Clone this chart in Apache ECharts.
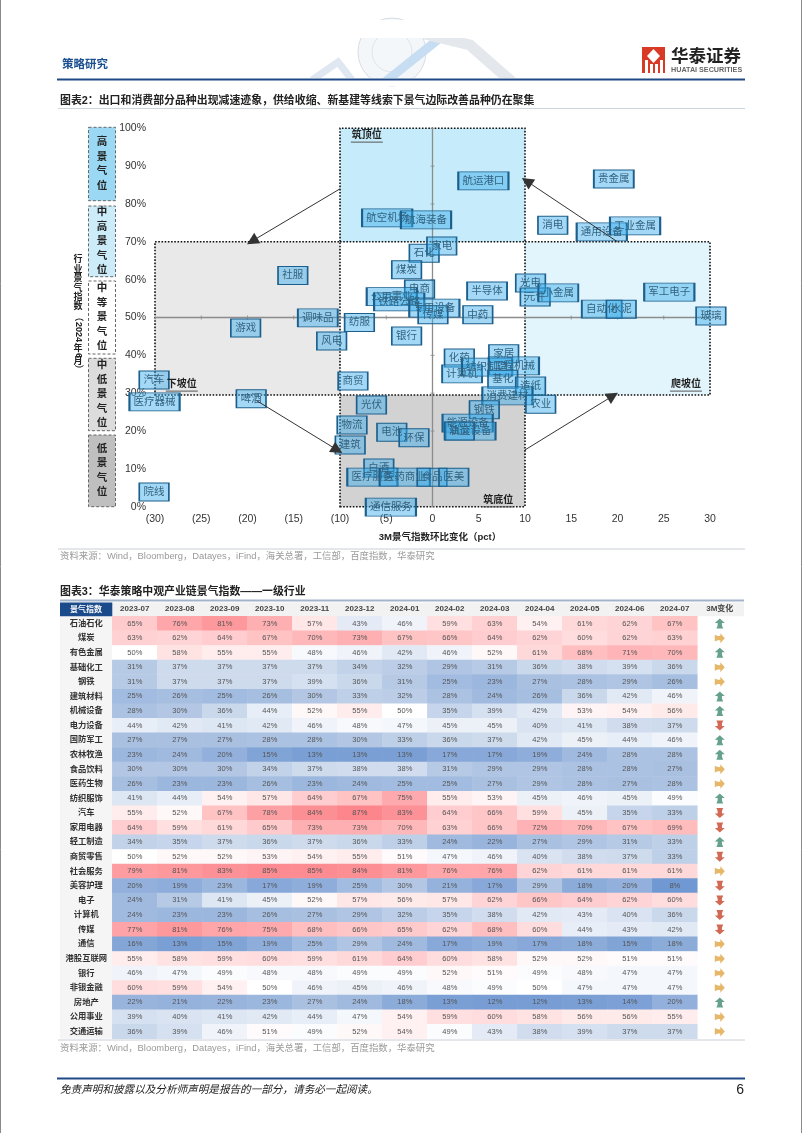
<!DOCTYPE html>
<html><head><meta charset="utf-8">
<style>html,body{margin:0;padding:0;background:#fff}#c{width:802px;height:1133px}</style>
<script src="https://cdn.jsdelivr.net/npm/echarts@6/dist/echarts.min.js"></script>
</head><body><div id="c"></div>
<script>
// ---------- scatter data (3M change pct, index %) ----------
const boxNames = ['航空机场','航海装备','航运港口','贵金属','消电','通用设备','工业金属','石化','家电','煤炭','社服','电商','公用事业','铁路公路','半导体','光电','元件','小金属','军工电子','自动化','水泥','玻璃','专用设备','传媒','中药','调味品','纺服','游戏','风电','银行','化药','家居','计算机','纺织制造','工程机械','基化','造纸','消费建材','农业','汽车','医疗器械','啤酒','商贸','光伏','钢铁','能源设备','轨交设备','油运','物流','电池','环保','建筑','白酒','医疗服务','医药商业','食品','医美','院线','通信服务'];
const boxX = [-4.9,-0.7,5.5,19.6,13.0,18.3,21.9,-0.9,1.0,-2.8,-15.1,-1.4,-4.4,-3.6,5.9,10.6,11.1,13.6,25.6,18.3,20.4,30.1,0.2,0.05,4.9,-12.4,-7.9,-20.2,-10.9,-2.8,2.9,7.7,3.2,5.9,8.8,7.6,10.6,8.1,11.7,-30.1,-30.05,-19.6,-8.6,-6.6,5.6,3.8,4.1,2.9,-8.7,-4.4,-2.0,-8.9,-5.8,-6.5,-3.0,-0.05,2.3,-30.1,-4.5];
const boxY = [76.3,75.8,86.1,86.6,74.4,72.6,74.2,67.0,68.9,62.6,61.1,57.5,55.5,54.1,57.0,59.1,55.4,56.5,56.7,52.2,52.2,50.4,52.5,50.7,50.7,49.9,48.7,47.2,43.8,45.1,39.3,40.4,35.1,36.9,37.2,33.7,31.9,29.3,27.1,33.5,27.7,28.5,33.2,26.9,25.6,22.1,20.0,20.0,21.6,19.7,18.2,16.3,10.2,7.8,7.8,7.8,7.8,3.9,-0.1];
const zoneNames = ['筑顶位','下坡位','爬坡位','筑底位'];
const zoneLabelX = [-7.1,-27.1,27.4,7.1];
const zoneLabelY = [98.2,32.4,32.4,1.8];
const zoneXFrom = [-10,-30,10,-10];
const zoneXTo = [10,-10,30,10];
const zoneYFrom = [70,29.5,29.5,-1];
const zoneYTo = [101.3,70,70,29.5];
const zoneFill = ['#c6ebfa','#e9e9e9','#e2f4fc','#d2d2d2'];
const arrowFrom = [[-10,84],[20,70],[-19,28],[10,15]];
const arrowTo = [[-19.5,70.2],[10.2,86],[-10.3,15],[19.5,29.3]];
const levelNames = ['高景气位','中高景气位','中等景气位','中低景气位','低景气位'];

// ---------- heat table data ----------
const months = ['2023-07','2023-08','2023-09','2023-10','2023-11','2023-12','2024-01','2024-02','2024-03','2024-04','2024-05','2024-06','2024-07'];
const lastColName = '3M变化';
const industries = ['石油石化','煤炭','有色金属','基础化工','钢铁','建筑材料','机械设备','电力设备','国防军工','农林牧渔','食品饮料','医药生物','纺织服饰','汽车','家用电器','轻工制造','商贸零售','社会服务','美容护理','电子','计算机','传媒','通信','港股互联网','银行','非银金融','房地产','公用事业','交通运输'];
const heat = [
[65,76,81,73,57,43,46,59,63,54,61,62,67],
[63,62,64,67,70,73,67,66,64,62,60,62,63],
[50,58,55,55,48,46,42,46,52,61,68,71,70],
[31,37,37,37,37,34,32,29,31,36,38,39,36],
[31,37,37,37,39,36,31,25,23,27,28,29,26],
[25,26,25,26,30,33,32,28,24,26,36,42,46],
[28,30,36,44,52,55,50,35,39,42,53,54,56],
[44,42,41,42,46,48,47,45,45,40,41,38,37],
[27,27,27,28,28,30,33,36,37,42,45,44,46],
[23,24,20,15,13,13,13,17,17,19,24,28,28],
[30,30,30,34,37,38,38,31,29,29,28,28,27],
[26,23,23,26,23,24,25,25,27,29,28,27,28],
[41,44,54,57,64,67,75,55,53,45,46,45,49],
[55,52,67,78,84,87,83,64,66,59,45,35,33],
[64,59,61,65,73,73,70,63,66,72,70,67,69],
[34,35,37,36,37,36,33,24,22,27,29,31,33],
[50,52,52,53,54,55,51,47,46,40,38,37,33],
[79,81,83,85,85,84,81,76,76,62,61,61,61],
[20,19,23,17,19,25,30,21,17,29,18,20,8],
[24,31,41,45,52,57,56,57,62,66,64,62,60],
[24,23,23,26,27,29,32,35,38,42,43,40,36],
[77,81,76,75,68,66,65,62,68,60,44,43,42],
[16,13,15,19,25,29,24,17,19,17,18,15,18],
[55,58,59,60,59,61,64,60,58,52,52,51,51],
[46,47,49,48,48,49,49,52,51,49,48,47,47],
[60,59,54,50,46,45,46,48,49,50,47,47,47],
[22,21,22,23,27,24,18,13,12,12,13,14,20],
[39,40,41,42,44,47,54,59,60,58,56,56,55],
[36,39,46,51,49,52,54,49,43,38,39,37,37]];
const change = ['up','flat','up','flat','flat','up','up','down','up','up','flat','flat','up','down','down','up','down','flat','down','down','down','down','flat','flat','flat','flat','up','flat','flat'];

// ---------- texts ----------
const headerText = '策略研究';
const title2 = '图表2：出口和消费部分品种出现减速迹象，供给收缩、新基建等线索下景气边际改善品种仍在聚集';
const title3 = '图表3：华泰策略中观产业链景气指数——一级行业';
const sourceText = '资料来源：Wind，Bloomberg，Datayes，iFind，海关总署，工信部，百度指数，华泰研究';
const footerText = '免责声明和披露以及分析师声明是报告的一部分，请务必一起阅读。';
const pageNo = '6';

const CJK = '"Liberation Sans","Noto Sans CJK SC",sans-serif';
const chart = echarts.init(document.getElementById('c'), null, {renderer:'canvas', width:802, height:1133});

function txt(text,x,y,size,color,opt){
  opt=opt||{};
  return Object.assign({type:'text',z:opt.z||5,rotation:opt.rotation||0,x:opt.px||0,y:opt.py||0,style:{text,x:opt.px?0:x,y:opt.py?0:y,fill:color,
    font:(opt.italic?'italic ':'')+(opt.bold?'bold ':'')+size+'px '+CJK,textAlign:opt.align||'left',textVerticalAlign:'middle',lineHeight:opt.lh}},{});
}
function rect(x,y,w,h,fill,stroke,dash,lw){
  return {type:'rect',z:0,shape:{x,y,width:w,height:h},style:{fill:fill||'none',stroke:stroke||'none',lineDash:dash||null,lineWidth:lw||1}};
}
function line(x1,y1,x2,y2,stroke,w){
  return {type:'line',z:1,shape:{x1,y1,x2,y2},style:{stroke,lineWidth:w}};
}
function poly(points,stroke,w){
  return {type:'polyline',z:0,shape:{points},style:{stroke,lineWidth:w,fill:'none'}};
}
const g=[];
// page edge
g.push(line(0.5,0,0.5,1133,'#8a8a8a',1),line(801.5,0,801.5,1133,'#8a8a8a',1));
// watermark
g.push({type:'circle',z:0,shape:{cx:392,cy:52,r:34},style:{fill:'rgba(228,234,242,.4)',stroke:'#d8dde4',lineWidth:1}});
g.push({type:'circle',z:0,shape:{cx:392,cy:52,r:20},style:{fill:'none',stroke:'#e0e4ea',lineWidth:1}});
g.push(poly([[312,80],[338,62],[352,80]],'#dfe7f1',7));
g.push(poly([[385,82],[440,38]],'#c6ddf2',9));
g.push(poly([[425,34],[470,45],[512,82]],'#e4e8ed',11));
g.push(rect(300,78,225,8,'#fff'));
g.push(rect(300,20,225,18,'#fff'));
// header
g.push(txt(headerText,62,64.5,11.5,'#1b4f8f',{bold:true}));
// logo
g.push(rect(642,47,23,26,'#d83a26'));
g.push({type:'polygon',z:1,shape:{points:[[653.5,49],[660,56],[653.5,63],[647,56]]},style:{fill:'#fff'}});
g.push(rect(645,60,3,13,'#fff'),rect(650,64,3,9,'#fff'),rect(655,64,3,9,'#fff'),rect(660,60,3,13,'#fff'));
g.push(txt('华泰证券',671,57,17.5,'#222',{bold:true}));
g.push(txt('HUATAI SECURITIES',671,70,7.2,'#666',{bold:true}));
g.push(line(57,79.5,745,79.5,'#1f4a86',2));
// titles
g.push(txt(title2,60,101,10.9,'#222',{bold:true}));
g.push(line(58,108.5,745,108.5,'#ccd4dc',1));
g.push(txt(title3,60,592,10.9,'#222',{bold:true}));
g.push(line(60,600.5,744,600.5,'#a3b3cc',2));
// level boxes
const lvlTop=[127.3,206,281,358.3,435], lvlBot=[200.7,276.7,354,430.7,506.7], lvlFill=['#9ad8f3','#cdecfa','#ffffff','#dcdcdc','#bfbfbf'];
levelNames.forEach((n,i)=>{
  g.push(rect(88.5,lvlTop[i],27,lvlBot[i]-lvlTop[i],lvlFill[i],'#666',[3,2],1));
  g.push({type:'text',z:5,style:{text:n.split('').join('\n'),x:102,y:(lvlTop[i]+lvlBot[i])/2,fill:'#222',font:'bold 10.5px '+CJK,textAlign:'center',textVerticalAlign:'middle',lineHeight:14.5}});
});
// y title (stacked)
'行业景气指数'.split('').forEach((c,i)=>g.push(txt(c,78,260+i*9.4,9,'#222',{align:'center',bold:true})));
g.push(txt('（',0,0,9,'#222',{align:'center',bold:true,px:78,py:317,rotation:-Math.PI/2}));
g.push(txt('2024',0,0,9,'#222',{align:'center',bold:true,px:78,py:332,rotation:-Math.PI/2}));
g.push(txt('年',78,349,9,'#222',{align:'center',bold:true}));
g.push(txt('6',0,0,9,'#222',{align:'center',bold:true,px:78,py:355.5,rotation:-Math.PI/2}));
g.push(txt('月',78,362,9,'#222',{align:'center',bold:true}));
g.push(txt('）',0,0,9,'#222',{align:'center',bold:true,px:78,py:369,rotation:-Math.PI/2}));
// x title
g.push(txt('3M景气指数环比变化（pct）',440,537,9.5,'#222',{align:'center',bold:true}));
// source lines
g.push(line(58,549,745,549,'#c9ced6',1));
g.push(txt(sourceText,60,556.5,9.4,'#9a9a9a'));
// table frames
g.push(rect(60,602.5,684,13.8,'#f2f2f2'));
g.push(rect(60,616.3,52.3,422.5,'#f5f5f5'));
g.push(rect(60,602.5,52.3,13.8,'#1a4a8a'));
g.push(txt('景气指数',86,609.5,8,'#fff',{align:'center',bold:true}));
g.push(line(58,1040,745,1040,'#c9ced6',1));
g.push(txt(sourceText,60,1048.5,9.4,'#9a9a9a'));
// footer
g.push(line(57,1078.5,745,1078.5,'#1f4a86',2));
g.push(txt(footerText,60,1090.5,10.6,'#222',{italic:true}));
g.push(txt(pageNo,744,1090,14,'#222',{align:'right'}));

const boxData = boxNames.map((n,i)=>({name:n,value:[boxX[i],boxY[i]]}));
const widthFor = n => n.length*10.3+9;
const tickData = [];
for(let x=-30;x<=30;x+=5) tickData.push([x,50]);
const tickDataV = [];
for(let y=0;y<=100;y+=10) tickDataV.push([0,y]);

const arrowPath = 'path://M0,-10 L8,-1 L3.5,-1 C3,3 3.8,6 5.5,10 L-5.5,10 C-3.8,6 -3,3 -3.5,-1 L-8,-1 Z';
const rotateOf = {up:0,flat:-90,down:180};
const colorOf = {up:'#3f8a72',flat:'#e0a544',down:'#c5432a'};

const heatData=[];
heat.forEach((r,ri)=>r.forEach((v,ci)=>heatData.push([ci,ri,v])));

chart.setOption({
  animation:false,
  backgroundColor:'#fff',
  graphic:{elements:g},
  textStyle:{fontFamily:CJK},
  grid:[
    {id:'scatter',left:155,top:128.3,width:555,height:378.4,containLabel:false},
    {id:'table',left:112.3,top:616.3,width:630,height:422.5,containLabel:false}
  ],
  xAxis:[
    {type:'value',gridIndex:0,min:-30,max:30,interval:5,position:'bottom',axisLine:{show:false},axisTick:{show:false},splitLine:{show:false},
     axisLabel:{color:'#333',fontSize:10.5,margin:7,hideOverlap:false,showMinLabel:true,showMaxLabel:true,formatter:v=>v<0?'('+(-v)+')':String(v)}},
    {type:'category',gridIndex:1,data:months.concat([lastColName]),position:'top',axisLine:{show:false},axisTick:{show:false},splitLine:{show:false},
     axisLabel:{color:'#444',fontSize:8,fontWeight:'bold',margin:3.5,interval:0}}
  ],
  yAxis:[
    {type:'value',gridIndex:0,min:0,max:100,interval:10,axisLine:{show:false},axisTick:{show:false},splitLine:{show:false},
     axisLabel:{color:'#333',fontSize:10.5,margin:9,formatter:v=>v+'%',showMinLabel:true,showMaxLabel:true}},
    {type:'category',gridIndex:1,data:industries,inverse:true,axisLine:{show:false},axisTick:{show:false},splitLine:{show:false},
     axisLabel:{color:'#333',fontSize:8.3,fontWeight:'bold',align:'center',margin:26,interval:0}}
  ],
  visualMap:{show:false,type:'continuous',seriesIndex:5,dimension:2,min:10,max:90,inRange:{color:['#7098d2','#b3c7e4','#ffffff','#ffb8ba','#fb7d84']}},
  series:[
    { // zones, cross axes, ticks on x line
      type:'scatter',xAxisIndex:0,yAxisIndex:0,z:1,symbol:'rect',symbolSize:[1,4],itemStyle:{color:'#888'},data:tickData,silent:true,clip:false,
      markArea:{silent:true,z:1,
        data:zoneNames.map((n,i)=>[{coord:[zoneXFrom[i],zoneYFrom[i]],itemStyle:{color:zoneFill[i],borderColor:'#111',borderWidth:1.6,borderType:[1.6,1.6]}},{coord:[zoneXTo[i],zoneYTo[i]]}])},
      markLine:{silent:true,z:2,symbol:'none',label:{show:false},lineStyle:{color:'#8c8c8c',width:1.3,type:'solid'},
        data:[[{coord:[-30,50]},{coord:[30,50]}],[{coord:[0,0]},{coord:[0,100]}]]}
    },
    { // ticks on y line
      type:'scatter',xAxisIndex:0,yAxisIndex:0,z:2,symbol:'rect',symbolSize:[4,1],itemStyle:{color:'#888'},data:tickDataV,silent:true,clip:false
    },
    { // labelled boxes
      type:'scatter',xAxisIndex:0,yAxisIndex:0,z:3,clip:false,symbol:'rect',
      symbolSize:(v,p)=>[widthFor(p.name),18],
      itemStyle:{color:'rgba(52,170,235,0.45)',borderColor:'#1c5f8c',borderWidth:1.3,opacity:1},
      label:{show:true,position:'inside',formatter:p=>p.name,fontSize:10.5,color:'#33627f'},
      data:boxData
    },
    { // arrows
      type:'scatter',xAxisIndex:0,yAxisIndex:0,z:4,data:[[0,50]],symbolSize:0,silent:true,
      markLine:{silent:true,z:6,symbol:['none','triangle'],symbolSize:[12,12],label:{show:false},lineStyle:{color:'#333',width:1,type:'solid'},
        data:arrowFrom.map((f,i)=>[{coord:f},{coord:arrowTo[i]}])}
    },
    { // zone labels
      type:'custom',xAxisIndex:0,yAxisIndex:0,z:7,clip:false,silent:true,
      data:zoneNames.map((n,i)=>[zoneLabelX[i],zoneLabelY[i],n]),
      encode:{x:0,y:1},
      renderItem:(params,api)=>{
        const p=api.coord([api.value(0),api.value(1)]);
        return {type:'group',children:[
          {type:'text',style:{text:zoneNames[params.dataIndex],x:p[0],y:p[1],fill:'#222',font:'bold 10px '+CJK,textAlign:'center',textVerticalAlign:'middle'}},
          {type:'line',shape:{x1:p[0]-16,y1:p[1]+7,x2:p[0]+16,y2:p[1]+7},style:{stroke:'#555',lineWidth:1}}
        ]};
      }
    },
    { // heat table
      type:'heatmap',xAxisIndex:1,yAxisIndex:1,z:2,silent:true,
      data:heatData,
      label:{show:true,formatter:p=>p.value[2]+'%',fontSize:7.5,color:'#555'},
      itemStyle:{borderWidth:0}
    },
    { // 3M change arrows
      type:'scatter',xAxisIndex:1,yAxisIndex:1,z:3,silent:true,symbol:arrowPath,symbolSize:10,
      data:change.map((c,i)=>({value:[13,i],symbolRotate:rotateOf[c],itemStyle:{color:colorOf[c]}}))
    }
  ]
});
</script></body></html>
